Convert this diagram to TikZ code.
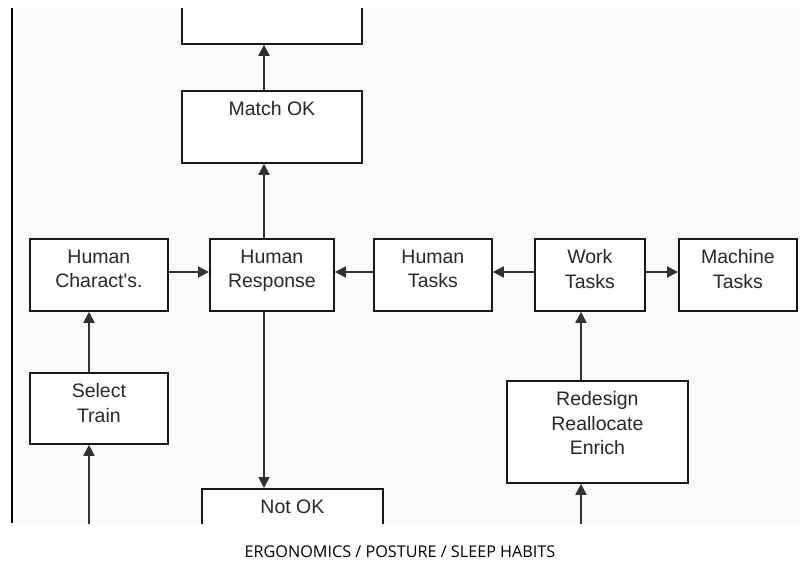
\documentclass[tikz,border=0pt]{standalone}
\usepackage{fontspec}
\setmainfont{Liberation Sans}
\newfontfamily\capfont{Open Sans}
\usetikzlibrary{arrows.meta,calc}
\definecolor{bgc}{RGB}{250,251,249}
\definecolor{boxc}{RGB}{25,25,25}
\definecolor{linec}{RGB}{50,50,50}
\definecolor{txtc}{RGB}{40,40,40}
\tikzset{
  boxc/.style={draw=boxc, line width=1.8pt, fill=white, inner sep=0pt, rectangle},
  boxtext/.style={anchor=north, inner sep=0pt, align=center, text=txtc,
    font=\fontsize{19.5}{24.5}\selectfont},
  conn/.style={draw=linec, line width=1.9pt, -{Triangle[length=11pt,width=11pt]}},
}
\newcommand{\mybox}[6]{%
  \node[boxc, minimum width={(#4)-(#2)}, minimum height={(#5)-(#3)}, anchor=north west]
    (#1) at (#2pt,-#3pt) {};
  \node[boxtext] (#1t) at ($(#1.north)+(0,-11.5pt)$) {#6};
}
\begin{document}
\begin{tikzpicture}[x=1pt,y=-1pt]
\useasboundingbox (0,0) rectangle (800,563);
\fill[white] (0,0) rectangle (800,563);
\fill[bgc] (13,8) rectangle (800,523);
\begin{scope}
\clip (13,8) rectangle (800,523);
\mybox{top}{181}{-20}{361}{43}{}
\mybox{mok}{181}{90}{361}{162}{Match OK}
\mybox{hc}{29}{238}{167}{310}{Human\\Charact\textquotesingle s.}
\mybox{hr}{209}{238}{333}{310}{Human\\Response}
\mybox{ht}{373}{238}{491}{310}{Human\\Tasks}
\mybox{wt}{534}{238}{644}{310}{Work\\Tasks}
\mybox{mt}{678}{238}{796}{310}{Machine\\Tasks}
\mybox{st}{29}{372}{167}{443}{Select\\Train}
\mybox{nok}{201}{488}{382}{570}{Not OK}
\mybox{rd}{506}{380}{687}{482}{Redesign\\Reallocate\\Enrich}
\coordinate (xa) at (264,0);
\coordinate (xb) at (89,0);
\coordinate (xc) at (581,0);
\coordinate (yr) at (0,272);
\coordinate (bl) at (89,540);
\coordinate (br) at (581,540);
\draw[conn] (mok.north -| xa) -- (top.south -| xa);
\draw[conn] (hr.north -| xa) -- (mok.south -| xa);
\draw[conn] (hr.south -| xa) -- (nok.north -| xa);
\draw[conn] (hc.east |- yr) -- (hr.west |- yr);
\draw[conn] (ht.west |- yr) -- (hr.east |- yr);
\draw[conn] (wt.west |- yr) -- (ht.east |- yr);
\draw[conn] (wt.east |- yr) -- (mt.west |- yr);
\draw[conn] (st.north -| xb) -- (hc.south -| xb);
\draw[conn] (bl) -- (st.south -| xb);
\draw[conn] (rd.north -| xc) -- (wt.south -| xc);
\draw[conn] (br) -- (rd.south -| xc);
\end{scope}
\draw[black, line width=2.2pt] (12,8) -- (12,523);
\node[font=\capfont\fontsize{16.2}{19}\selectfont, text=black, anchor=base] (cap) at (400,557) {ERGONOMICS / POSTURE / SLEEP HABITS};
\end{tikzpicture}
\end{document}
